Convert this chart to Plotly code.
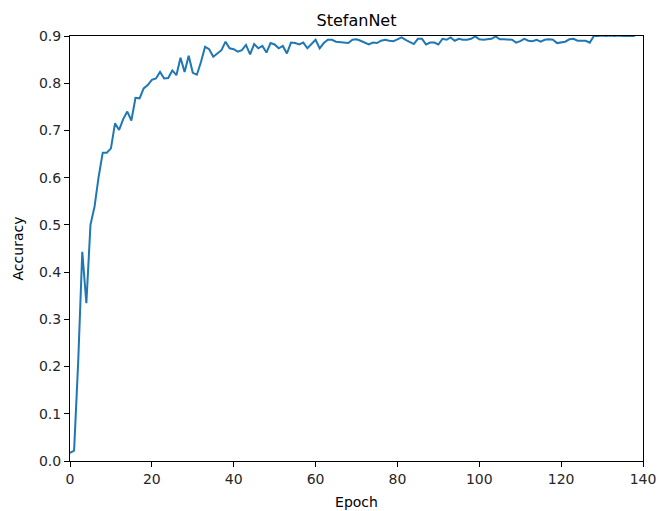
import plotly.graph_objects as go

# Validation accuracy per training epoch
epochs = list(range(139))
accuracy = [
    0.017, 0.022, 0.21, 0.443, 0.334, 0.500, 0.539, 0.602, 0.653, 0.653,
    0.662, 0.715, 0.701, 0.724, 0.740, 0.721, 0.769, 0.768, 0.789, 0.796,
    0.807, 0.810, 0.824, 0.810, 0.811, 0.827, 0.817, 0.854, 0.824, 0.858,
    0.822, 0.818, 0.845, 0.877, 0.872, 0.856, 0.863, 0.870, 0.888, 0.874,
    0.872, 0.867, 0.870, 0.881, 0.861, 0.883, 0.874, 0.879, 0.865, 0.885,
    0.882, 0.874, 0.879, 0.863, 0.886, 0.885, 0.882, 0.886, 0.874, 0.882,
    0.892, 0.874, 0.885, 0.892, 0.892, 0.888, 0.887, 0.887, 0.885, 0.892,
    0.893, 0.890, 0.886, 0.882, 0.886, 0.885, 0.890, 0.892, 0.890, 0.889,
    0.893, 0.897, 0.892, 0.888, 0.883, 0.894, 0.894, 0.882, 0.886, 0.886,
    0.882, 0.894, 0.892, 0.897, 0.890, 0.894, 0.892, 0.892, 0.894, 0.899,
    0.893, 0.892, 0.893, 0.894, 0.899, 0.893, 0.893, 0.893, 0.892, 0.886,
    0.889, 0.894, 0.890, 0.889, 0.892, 0.888, 0.892, 0.893, 0.892, 0.885,
    0.886, 0.888, 0.893, 0.894, 0.890, 0.890, 0.890, 0.886, 0.900, 0.900,
    0.901, 0.900, 0.901, 0.900, 0.901, 0.900, 0.900, 0.901, 0.900,
]

x_ticks = [0, 20, 40, 60, 80, 100, 120, 140]
y_ticks = [0.0, 0.1, 0.2, 0.3, 0.4, 0.5, 0.6, 0.7, 0.8, 0.9]

fig = go.Figure(
    go.Scatter(
        x=epochs,
        y=accuracy,
        mode="lines",
        line=dict(color="#1f77b4", width=2),
        showlegend=False,
    )
)

axis_style = dict(
    showline=True,
    mirror=True,
    linecolor="black",
    linewidth=1,
    ticks="outside",
    ticklen=5,
    tickwidth=1,
    tickcolor="black",
    showgrid=False,
    zeroline=False,
    automargin=False,
    tickfont=dict(family="DejaVu Sans", size=14, color="#262626"),
)

fig.update_layout(
    width=659,
    height=511,
    margin=dict(l=70, r=16, t=36, b=50),
    paper_bgcolor="white",
    plot_bgcolor="white",
    title=dict(
        text="StefanNet",
        x=(70 + 643) / 2 / 659,
        xanchor="center",
        y=1 - 20 / 511,
        yanchor="middle",
        font=dict(family="DejaVu Sans", size=16, color="black"),
    ),
    xaxis=dict(
        range=[0, 140],
        tickvals=x_ticks,
        title=dict(text="Epoch", font=dict(family="DejaVu Sans", size=14, color="black"), standoff=11),
        **axis_style,
    ),
    yaxis=dict(
        range=[0, 0.9],
        tickvals=y_ticks,
        tickformat=".1f",
        title=dict(text="Accuracy", font=dict(family="DejaVu Sans", size=14, color="black"), standoff=12),
        **axis_style,
    ),
)

fig.write_html("out.html")
